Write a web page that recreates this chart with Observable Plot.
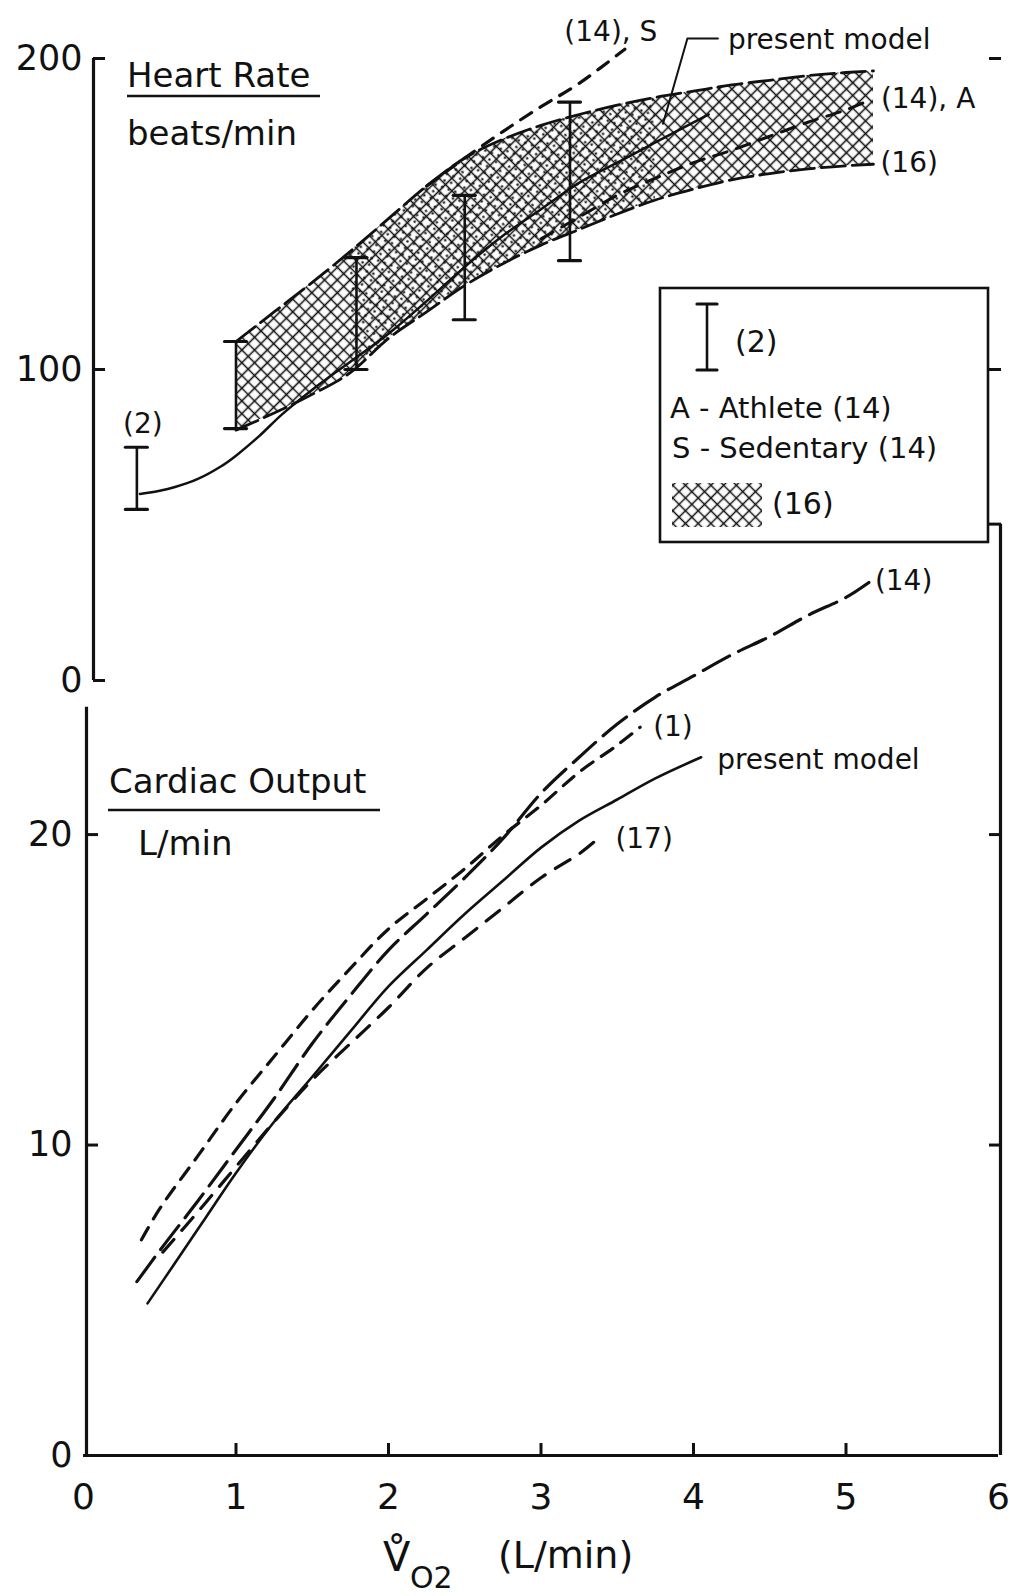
<!DOCTYPE html>
<html><head><meta charset="utf-8">
<script src="https://cdn.jsdelivr.net/npm/d3@7"></script>
<script src="https://cdn.jsdelivr.net/npm/@observablehq/plot@0.6"></script>
<style>
html,body{margin:0;padding:0;background:#fff;}
#wrap{position:relative;width:1010px;height:1596px;overflow:hidden;}
#wrap svg{position:absolute;left:0;}
</style></head><body><div id="wrap"></div>
<script>
const FONT = '"DejaVu Sans", sans-serif';
const INK = "#111";

// ---------- shared x axis ----------
const xTicks = [0, 1, 2, 3, 4, 5, 6];
const xTickMarks = [1, 2, 3, 4, 5];

// ---------- Heart rate panel (beats/min) ----------
const hrTicks = [0, 100, 200];
const hrRightTicks = [100, 200];

// error bars, ref (2)
const hrBarX  = [0.35, 1.0, 1.79, 2.5, 3.19];
const hrBarLo = [55, 81, 100, 116, 135];
const hrBarHi = [75, 109, 136, 156, 186];

// shaded band, ref (16)
const hrBandX  = [1.0, 1.25, 1.5, 1.75, 2.0, 2.25, 2.5, 2.75, 3.0, 3.25, 3.5, 3.75, 4.0, 4.25, 4.5, 4.75, 5.0, 5.18];
const hrBandHi = [109, 118.5, 128, 138, 148.5, 159, 168, 174, 178.5, 182, 185, 187.5, 189.5, 191.5, 193, 194.5, 195.5, 196];
const hrBandLo = [80.5, 86, 92, 99, 110, 118.5, 127, 134, 140, 145, 150, 154.5, 158, 161, 163, 164.5, 165.5, 166];
const hrStippleRange = [1.75, 3.9];

// ref (14), sedentary
const hrSX = [2.25, 2.5, 2.75, 3.0, 3.25, 3.55];
const hrSY = [159, 168, 176.5, 184.5, 192, 203];
// ref (14), athlete
const hrAX = [3.0, 3.25, 3.5, 3.75, 4.0, 4.25, 4.5, 4.75, 5.0, 5.15];
const hrAY = [142, 149, 156, 161.5, 166.5, 170.5, 175, 179.5, 183.5, 186.5];
// present model
const hrModelX = [0.37, 0.5, 0.6, 0.75, 0.9, 1.0, 1.15, 1.3, 1.5, 1.75, 2.0, 2.25, 2.5, 2.75, 3.0, 3.25, 3.5, 3.75, 4.1];
const hrModelY = [60, 61, 62.2, 64.8, 68.8, 72.3, 78.5, 85.5, 93.5, 102.5, 111.5, 122, 133, 143, 151.5, 160, 166.5, 173, 182];
// leader line for the "present model" label
const hrLeaderX = [3.80, 3.96, 4.16];
const hrLeaderY = [179, 206.4, 206.4];

const hrLabelS = "(14), S", hrLabelA = "(14), A", hrLabelBand = "(16)", hrLabelBars = "(2)", modelLabel = "present model";

// ---------- Cardiac output panel (L/min) ----------
const coTicks = [0, 10, 20];
const coRightTicks = [10, 20, 30];
const coX14 = [0.35, 0.5, 0.75, 1.0, 1.25, 1.5, 1.75, 2.0, 2.25, 2.5, 2.75, 3.0, 3.25, 3.5, 3.75, 4.0, 4.25, 4.5, 4.75, 5.0, 5.15];
const coY14 = [5.6, 6.6, 8.2, 9.85, 11.5, 13.27, 14.82, 16.28, 17.44, 18.61, 19.87, 21.33, 22.49, 23.56, 24.43, 25.11, 25.79, 26.38, 27.06, 27.64, 28.12];
const coX1 = [0.38, 0.5, 0.75, 1.0, 1.25, 1.5, 1.75, 2.0, 2.25, 2.5, 2.75, 3.0, 3.25, 3.5, 3.65];
const coY1 = [6.95, 7.95, 9.65, 11.35, 12.85, 14.34, 15.69, 16.96, 17.93, 18.9, 19.97, 20.94, 22.01, 22.88, 23.46];
const coXModel = [0.42, 0.6, 0.8, 1.0, 1.25, 1.5, 1.75, 2.0, 2.25, 2.5, 2.75, 3.0, 3.25, 3.5, 3.75, 4.05];
const coYModel = [4.9, 6.2, 7.65, 9.1, 10.75, 12.2, 13.66, 15.11, 16.28, 17.44, 18.51, 19.58, 20.45, 21.13, 21.81, 22.49];
const coX17 = [0.52, 0.75, 1.0, 1.25, 1.5, 1.75, 2.0, 2.25, 2.5, 2.75, 3.0, 3.25, 3.35];
const coY17 = [6.55, 7.85, 9.3, 10.75, 12.1, 13.27, 14.43, 15.7, 16.67, 17.64, 18.61, 19.38, 19.77];
const coLabel14 = "(14)", coLabel1 = "(1)", coLabel17 = "(17)";

// ---------- helpers ----------
const pts = (xs, ys) => xs.map((x, i) => ({x, y: ys[i]}));
const last = a => [a[a.length - 1]];
const hrBand = hrBandX.map((x, i) => ({x, lo: hrBandLo[i], hi: hrBandHi[i]}));
const hrBars = hrBarX.map((x, i) => ({x, lo: hrBarLo[i], hi: hrBarHi[i]}));
const hrS = pts(hrSX, hrSY), hrA = pts(hrAX, hrAY), hrModel = pts(hrModelX, hrModelY), hrLeader = pts(hrLeaderX, hrLeaderY);
const co14 = pts(coX14, coY14), co1 = pts(coX1, coY1), coModel = pts(coXModel, coYModel), co17 = pts(coX17, coY17);

const W = 1010, ML = 83, MR = 12;
const style = {fontFamily: FONT, color: INK, background: "transparent", overflow: "visible"};
const lineOpts = (dash, w = 3) => ({x: "x", y: "y", stroke: INK, strokeWidth: w, strokeDasharray: dash, curve: "catmull-rom", strokeLinecap: "round"});
const intFmt = d3.format("d");

// ---------- top panel ----------
const topSvg = Plot.plot({
  width: W, height: 700, marginLeft: ML, marginRight: MR, marginTop: 58, marginBottom: 20,
  x: {domain: [0, 6], axis: null},
  y: {domain: [0, 200]},
  style,
  marks: [
    Plot.areaY(hrBand, {x: "x", y1: "lo", y2: "hi", fill: "url(#xhatch)", curve: "monotone-x"}),
    Plot.areaY(hrBand.filter(d => d.x >= hrStippleRange[0] && d.x <= hrStippleRange[1]),
      {x: "x", y1: "lo", y2: "hi", fill: "url(#stipple)", curve: "monotone-x"}),
    Plot.line(hrBand, {x: "x", y: "hi", stroke: INK, strokeWidth: 2.8, strokeDasharray: "24,7", curve: "monotone-x"}),
    Plot.line(hrBand, {x: "x", y: "lo", stroke: INK, strokeWidth: 2.8, strokeDasharray: "24,7", curve: "monotone-x"}),
    Plot.line(hrS, lineOpts("13,10", 3.2)),
    Plot.line(hrA, lineOpts("14,10", 3)),
    Plot.line(hrModel, lineOpts(null, 2.5)),
    Plot.line(hrLeader, {x: "x", y: "y", stroke: INK, strokeWidth: 2}),
    Plot.ruleX(hrBars, {x: "x", y1: "lo", y2: "hi", stroke: INK, strokeWidth: 2.6}),
    Plot.ruleY(hrBars, {y: "lo", x1: "x", x2: "x", insetLeft: -11, insetRight: -11, stroke: INK, strokeWidth: 3.2, strokeLinecap: "round"}),
    Plot.ruleY(hrBars, {y: "hi", x1: "x", x2: "x", insetLeft: -11, insetRight: -11, stroke: INK, strokeWidth: 3.2, strokeLinecap: "round"}),
    // left axis
    Plot.ruleX([0], {y1: 0, y2: 200, stroke: INK, strokeWidth: 3.2, dx: 10}),
    Plot.axisY({ticks: hrTicks, tickSize: 12, dx: 22, strokeWidth: 3, tickFormat: () => "", label: null}),
    Plot.axisY({ticks: hrTicks, tickSize: 0, tickPadding: 11, dx: 10, fontSize: 35, tickFormat: intFmt, label: null}),
    Plot.axisY({anchor: "right", ticks: hrRightTicks, tickSize: 12, dx: -10, strokeWidth: 3, tickFormat: () => "", label: null}),
    // labels
    Plot.text(last(hrS), {x: "x", y: "y", text: () => hrLabelS, dx: -14, dy: -17, textAnchor: "middle", fontSize: 28, fill: INK}),
    Plot.text(last(hrA), {x: "x", y: "y", text: () => hrLabelA, dx: 12, dy: -1, textAnchor: "start", fontSize: 28, fill: INK}),
    Plot.text(last(hrBand), {x: "x", y: "lo", text: () => hrLabelBand, dx: 7, dy: -1, textAnchor: "start", fontSize: 28, fill: INK}),
    Plot.text(hrBars.slice(0, 1), {x: "x", y: "hi", text: () => hrLabelBars, dx: 6, dy: -23, textAnchor: "middle", fontSize: 28, fill: INK}),
    Plot.text(last(hrLeader), {x: "x", y: "y", text: () => modelLabel, dx: 10, dy: 1, textAnchor: "start", fontSize: 28, fill: INK})
  ]
});
topSvg.style.top = "0px";
d3.select(topSvg).insert("defs", ":first-child").html(`
  <pattern id="xhatch" width="9" height="9" patternUnits="userSpaceOnUse" patternTransform="rotate(45)">
    <path d="M0,4.5H9M4.5,0V9" stroke="#111" stroke-width="1.6"/>
  </pattern>
  <pattern id="stipple" width="7" height="7" patternUnits="userSpaceOnUse" patternTransform="rotate(20)">
    <circle cx="3.5" cy="3.5" r="1.2" fill="#111"/>
  </pattern>`);

// ---------- bottom panel ----------
const botSvg = Plot.plot({
  width: W, height: 1096, marginLeft: ML, marginRight: MR, marginTop: 5, marginBottom: 141,
  x: {domain: [0, 6]},
  y: {domain: [0, 30.6]},
  style,
  marks: [
    Plot.line(co14, lineOpts("30,10", 3.2)),
    Plot.line(co1, lineOpts("14,10", 3.2)),
    Plot.line(coModel, lineOpts(null, 2.6)),
    Plot.line(co17, lineOpts("17,12", 3.2)),
    // frame
    Plot.ruleY([0], {stroke: INK, strokeWidth: 3.2}),
    Plot.ruleX([0], {y1: 0, y2: 24.1, stroke: INK, strokeWidth: 3.2, dx: 3}),
    Plot.ruleX([6], {y1: 0, y2: 30, stroke: INK, strokeWidth: 3.2, dx: 2}),
    Plot.axisY({ticks: coTicks, tickSize: 12, dx: 15, strokeWidth: 3, tickFormat: () => "", label: null}),
    Plot.axisY({ticks: coTicks, tickSize: 0, tickPadding: 14, dx: 3, fontSize: 35, tickFormat: intFmt, label: null}),
    Plot.axisY({anchor: "right", ticks: coRightTicks, tickSize: 12, dx: -10, strokeWidth: 3, tickFormat: () => "", label: null}),
    Plot.axisX({ticks: xTickMarks, tickSize: 12, dy: -12, strokeWidth: 3, tickFormat: () => "", label: null}),
    Plot.axisX({ticks: xTicks, tickSize: 0, tickPadding: 28, fontSize: 36, tickFormat: intFmt, label: null}),
    // labels
    Plot.text(last(co14), {x: "x", y: "y", text: () => coLabel14, dx: 6, dy: -1, textAnchor: "start", fontSize: 28, fill: INK}),
    Plot.text(last(co1), {x: "x", y: "y", text: () => coLabel1, dx: 13, dy: 0, textAnchor: "start", fontSize: 28, fill: INK}),
    Plot.text(last(coModel), {x: "x", y: "y", text: () => modelLabel, dx: 16, dy: 3, textAnchor: "start", fontSize: 28, fill: INK}),
    Plot.text(last(co17), {x: "x", y: "y", text: () => coLabel17, dx: 21, dy: -3, textAnchor: "start", fontSize: 28, fill: INK})
  ]
});
botSvg.style.top = "500px";

const wrap = document.getElementById("wrap");
wrap.appendChild(topSvg);
wrap.appendChild(botSvg);

// ---------- overlay: panel titles, legend, x-axis title ----------
const ov = d3.select(wrap).append("svg")
  .attr("width", W).attr("height", 1596).style("top", "0px")
  .attr("font-family", FONT).attr("fill", INK);
ov.append("defs").html(`
  <pattern id="xhatchLeg" width="9" height="9" patternUnits="userSpaceOnUse" patternTransform="rotate(45)">
    <path d="M0,4.5H9M4.5,0V9" stroke="#111" stroke-width="1.5"/>
  </pattern>`);
const txt = (x, y, s, size) => ov.append("text").attr("x", x).attr("y", y).attr("font-size", size).text(s);
const hline = (x1, x2, y, w) => ov.append("line").attr("x1", x1).attr("x2", x2).attr("y1", y).attr("y2", y).attr("stroke", INK).attr("stroke-width", w);

// panel titles
txt(127, 87, "Heart Rate", 34);
hline(127, 320, 96, 2.6);
txt(127, 145, "beats/min", 34);
txt(109, 793, "Cardiac Output", 34);
hline(108, 380, 810, 2.6);
txt(138, 855, "L/min", 34);

// legend
const lg = ov.append("g").attr("transform", "translate(660,288)");
lg.append("rect").attr("width", 328).attr("height", 254).attr("fill", "none").attr("stroke", INK).attr("stroke-width", 2.6);
lg.append("line").attr("x1", 47).attr("x2", 47).attr("y1", 16).attr("y2", 82).attr("stroke", INK).attr("stroke-width", 2.6);
lg.append("line").attr("x1", 37).attr("x2", 57).attr("y1", 16).attr("y2", 16).attr("stroke", INK).attr("stroke-width", 3.2).attr("stroke-linecap", "round");
lg.append("line").attr("x1", 37).attr("x2", 57).attr("y1", 82).attr("y2", 82).attr("stroke", INK).attr("stroke-width", 3.2).attr("stroke-linecap", "round");
lg.append("text").attr("x", 75).attr("y", 64).attr("font-size", 30).text("(2)");
lg.append("text").attr("x", 10).attr("y", 130).attr("font-size", 29).text("A - Athlete (14)");
lg.append("text").attr("x", 12).attr("y", 170).attr("font-size", 29).text("S - Sedentary (14)");
lg.append("rect").attr("x", 12).attr("y", 195).attr("width", 90).attr("height", 44).attr("fill", "url(#xhatchLeg)");
lg.append("text").attr("x", 112).attr("y", 226).attr("font-size", 30).text("(16)");

// x-axis title
txt(383, 1571, "V\u030A", 40);
txt(410, 1588, "O2", 30);
txt(498, 1568, "(L/min)", 38);
</script>
</body></html>
